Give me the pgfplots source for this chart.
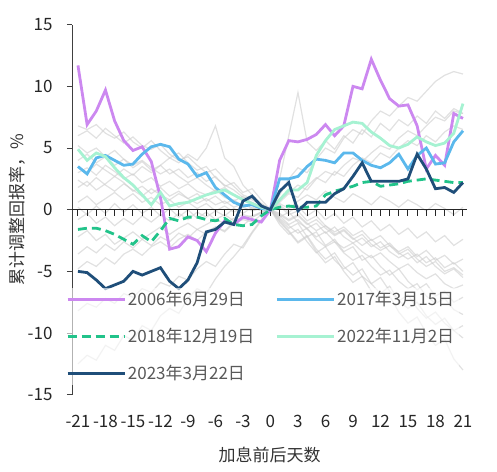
\documentclass[border=0pt]{standalone}
\usepackage{fontspec}
\setmainfont{Noto Sans CJK SC}
\usepackage{pgfplots}
\pgfplotsset{compat=1.18}
\usepackage{pgfplotstable}
\definecolor{cpurple}{HTML}{CC88F0}
\definecolor{cblue}{HTML}{5BB8EC}
\definecolor{cgreen}{HTML}{22C38A}
\definecolor{cmint}{HTML}{A6F2D2}
\definecolor{cnavy}{HTML}{1F4E79}
\definecolor{cgray}{HTML}{CDCDCD}

\pgfplotstableread{
d p b g m n
-21 11.7 3.5 -1.6 4.9 -5.0
-20 6.9 2.9 -1.5 4.0 -5.1
-19 8.0 4.2 -1.5 4.6 -5.7
-18 9.7 4.4 -1.7 4.3 -6.4
-17 7.2 4.0 -2.0 3.4 -6.1
-16 5.6 3.6 -2.4 2.6 -5.8
-15 4.8 3.7 -2.8 2.0 -5.0
-14 5.1 4.5 -2.1 1.2 -5.3
-13 3.9 5.1 -2.6 0.4 -5.0
-12 1.0 5.3 -1.7 1.4 -4.7
-11 -3.2 5.1 -0.7 0.3 -5.8
-10 -3.0 4.1 -0.9 0.5 -6.4
-9 -2.2 3.7 -0.6 0.6 -5.7
-8 -2.5 2.7 -0.6 0.9 -4.3
-7 -3.4 3.0 -0.8 1.2 -1.8
-6 -1.9 1.8 -0.9 1.4 -1.6
-5 -0.9 1.2 -0.7 1.6 -1.0
-4 -1.2 0.6 -1.2 1.2 -1.2
-3 -0.6 0.3 -1.3 0.8 0.7
-2 -0.8 0.4 -1.2 0.5 1.1
-1 -1.0 0.1 -0.5 0.2 0.3
0 0 0 0 0 0
1 4.0 2.5 0.2 0.8 1.5
2 5.6 2.5 0.3 1.6 2.2
3 5.5 2.7 0.2 1.6 -0.1
4 5.7 3.5 0.2 2.2 0.6
5 6.1 4.1 0.3 4.4 0.6
6 6.9 4.0 1.2 5.6 0.6
7 6.0 3.8 1.5 6.5 1.3
8 6.8 4.6 1.7 6.8 1.7
9 10.0 4.6 1.9 7.1 2.7
10 9.8 4.0 2.2 7.0 3.8
11 12.2 3.6 2.3 6.3 2.3
12 10.5 3.4 1.9 5.8 2.3
13 9.0 3.8 2.0 5.2 2.3
14 8.4 4.5 2.1 5.0 2.3
15 8.5 3.3 2.3 5.3 2.5
16 6.8 4.4 2.4 5.9 4.5
17 3.3 5.0 2.5 5.5 3.3
18 4.4 3.7 2.4 5.2 1.7
19 3.6 3.8 2.3 5.4 1.8
20 7.8 5.5 2.2 6.2 1.4
21 7.4 6.4 2.2 8.6 2.2
}\maintable

\begin{document}
\begin{tikzpicture}[font=\fontsize{17}{20}\selectfont]
\useasboundingbox (-72pt,-76.3pt) rectangle (425pt,394.7pt);
\begin{axis}[
  scale only axis, width=395pt, height=370pt,
  xmin=-21.65, xmax=21.44, ymin=-15, ymax=15,
  axis x line*=bottom, axis y line*=left,
  x axis line style={draw=none},
  y axis line style={-, black!75, line width=0.8pt},
  xtick={-21,-18,...,21}, ytick={-15,-10,...,15},
  xtick style={draw=none},
  ytick style={black!75, line width=0.8pt},
  tick align=outside, major tick length=5pt,
  /pgf/number format/assume math mode=true,
  tick label style={text=black!85},
  xticklabel style={yshift=-12pt},
  yticklabel style={xshift=-11pt},
  xlabel={加息前后天数},
  ylabel={累计调整回报率，\%},
  xlabel style={at={(axis description cs:0.5,-0.163)}, anchor=center, text=black!80},
  ylabel style={at={(axis description cs:-0.139,0.5)}, anchor=center, text=black!80},
  legend columns=2,
  legend cell align=left,
  legend style={draw=none, fill=white, fill opacity=0.6, text opacity=1,
    at={(axis description cs:-0.023,0.29)}, anchor=north west,
    text=black!65, row sep=17pt,
    /tikz/every even column/.append style={column sep=19pt}},
  legend image code/.code={\draw[#1] (0pt,0pt) -- (57pt,0pt);},
  clip=false,
]
\addplot[cgray, line width=1.2pt, opacity=0.6, forget plot] coordinates {(-21,6.8)(-20,6.5)(-19,6.9)(-18,6.2)(-17,5.8)(-16,6.3)(-15,5.5)(-14,5.0)(-13,5.6)(-12,4.8)(-11,4.2)(-10,4.6)(-9,3.8)(-8,3.2)(-7,3.5)(-6,2.6)(-5,2.0)(-4,1.6)(-3,1.0)(-2,0.8)(-1,0.4)(0,0)(1,-0.5)(2,-1.2)(3,-0.8)(4,-1.6)(5,-2.2)(6,-1.8)(7,-2.6)(8,-3.1)(9,-2.7)(10,-3.4)(11,-3.9)(12,-3.5)(13,-4.2)(14,-4.8)(15,-4.4)(16,-5.1)(17,-5.6)(18,-5.2)(19,-6.0)(20,-6.4)(21,-6.1)};
\addplot[cgray, line width=1.2pt, opacity=0.6, forget plot] coordinates {(-21,6.0)(-20,6.4)(-19,5.8)(-18,6.6)(-17,6.0)(-16,5.4)(-15,5.9)(-14,5.2)(-13,4.9)(-12,5.3)(-11,4.5)(-10,4.0)(-9,4.3)(-8,3.6)(-7,3.0)(-6,3.3)(-5,2.5)(-4,1.9)(-3,1.2)(-2,0.9)(-1,0.5)(0,0)(1,0.8)(2,1.4)(3,2.0)(4,1.6)(5,2.5)(6,3.1)(7,2.8)(8,3.6)(9,4.2)(10,3.9)(11,4.6)(12,5.2)(13,4.9)(14,5.8)(15,6.4)(16,6.0)(17,6.8)(18,7.5)(19,7.2)(20,8.0)(21,7.8)};
\addplot[cgray, line width=1.2pt, opacity=0.6, forget plot] coordinates {(-21,3.0)(-20,3.4)(-19,2.8)(-18,3.6)(-17,3.1)(-16,2.5)(-15,2.9)(-14,2.2)(-13,2.6)(-12,1.9)(-11,2.3)(-10,1.7)(-9,2.1)(-8,1.5)(-7,1.2)(-6,1.6)(-5,1.0)(-4,0.7)(-3,1.1)(-2,0.5)(-1,0.3)(0,0)(1,1.2)(2,2.5)(3,3.4)(4,3.0)(5,4.1)(6,5.0)(7,4.6)(8,5.8)(9,6.5)(10,6.1)(11,7.2)(12,8.0)(13,7.6)(14,8.4)(15,9.1)(16,8.8)(17,9.6)(18,10.4)(19,10.9)(20,11.2)(21,11.0)};
\addplot[cgray, line width=1.2pt, opacity=0.6, forget plot] coordinates {(-21,5.2)(-20,4.6)(-19,5.0)(-18,4.3)(-17,4.8)(-16,4.1)(-15,3.6)(-14,4.0)(-13,3.4)(-12,2.9)(-11,3.3)(-10,2.7)(-9,2.2)(-8,2.6)(-7,2.0)(-6,1.5)(-5,1.8)(-4,1.2)(-3,0.9)(-2,0.6)(-1,0.2)(0,0)(1,-0.4)(2,-0.9)(3,-0.5)(4,-1.2)(5,-0.8)(6,-1.5)(7,-2.1)(8,-1.7)(9,-2.4)(10,-2.0)(11,-2.8)(12,-3.3)(13,-2.9)(14,-3.6)(15,-3.2)(16,-4.0)(17,-4.6)(18,-4.2)(19,-5.0)(20,-4.7)(21,-5.3)};
\addplot[cgray, line width=1.2pt, opacity=0.6, forget plot] coordinates {(-21,1.8)(-20,2.3)(-19,1.6)(-18,2.1)(-17,2.7)(-16,2.2)(-15,1.5)(-14,1.9)(-13,1.3)(-12,1.8)(-11,1.1)(-10,1.5)(-9,0.9)(-8,1.3)(-7,0.7)(-6,1.1)(-5,0.5)(-4,0.8)(-3,0.3)(-2,0.5)(-1,0.2)(0,0)(1,-0.6)(2,-0.2)(3,-1.0)(4,-1.5)(5,-1.1)(6,-1.9)(7,-1.4)(8,-2.2)(9,-2.7)(10,-2.3)(11,-3.0)(12,-2.6)(13,-3.4)(14,-3.9)(15,-3.5)(16,-4.3)(17,-3.8)(18,-4.6)(19,-5.2)(20,-4.8)(21,-5.5)};
\addplot[cgray, line width=1.2pt, opacity=0.6, forget plot] coordinates {(-21,0.6)(-20,1.1)(-19,0.4)(-18,0.9)(-17,1.4)(-16,0.8)(-15,1.3)(-14,0.6)(-13,1.0)(-12,0.4)(-11,0.8)(-10,0.2)(-9,0.6)(-8,0.1)(-7,0.5)(-6,-0.1)(-5,0.3)(-4,-0.2)(-3,0.2)(-2,-0.1)(-1,0.1)(0,0)(1,0.5)(2,0.1)(3,0.7)(4,1.2)(5,0.8)(6,1.5)(7,1.0)(8,0.6)(9,1.3)(10,0.9)(11,0.4)(12,1.1)(13,0.7)(14,0.2)(15,0.8)(16,0.4)(17,-0.1)(18,0.5)(19,0.1)(20,-0.4)(21,0.2)};
\addplot[cgray, line width=1.2pt, opacity=0.6, forget plot] coordinates {(-21,-0.8)(-20,-0.3)(-19,-1.1)(-18,-0.6)(-17,-1.3)(-16,-0.7)(-15,-1.2)(-14,-0.5)(-13,-1.0)(-12,-0.4)(-11,-0.9)(-10,-0.3)(-9,-0.8)(-8,-0.2)(-7,-0.6)(-6,-0.1)(-5,-0.5)(-4,0.1)(-3,-0.3)(-2,0.2)(-1,-0.1)(0,0)(1,-0.7)(2,-1.3)(3,-1.9)(4,-1.5)(5,-2.4)(6,-3.0)(7,-2.6)(8,-3.5)(9,-4.1)(10,-3.7)(11,-4.6)(12,-5.3)(13,-4.9)(14,-5.8)(15,-6.4)(16,-6.0)(17,-7.0)(18,-7.6)(19,-7.2)(20,-8.1)(21,-8.5)};
\addplot[cgray, line width=1.2pt, opacity=0.6, forget plot] coordinates {(-21,-2.2)(-20,-1.7)(-19,-2.5)(-18,-2.0)(-17,-2.8)(-16,-2.3)(-15,-1.8)(-14,-2.4)(-13,-1.9)(-12,-1.4)(-11,-2.0)(-10,-1.5)(-9,-1.1)(-8,-1.6)(-7,-1.2)(-6,-0.8)(-5,-1.1)(-4,-0.7)(-3,-0.4)(-2,-0.6)(-1,-0.2)(0,0)(1,0.3)(2,-0.4)(3,-0.1)(4,-0.9)(5,-0.5)(6,-1.3)(7,-1.8)(8,-1.4)(9,-2.1)(10,-1.7)(11,-2.5)(12,-2.1)(13,-2.9)(14,-3.4)(15,-3.0)(16,-3.8)(17,-3.3)(18,-4.1)(19,-3.7)(20,-4.4)(21,-4.0)};
\addplot[cgray, line width=1.2pt, opacity=0.6, forget plot] coordinates {(-21,-3.6)(-20,-3.0)(-19,-3.5)(-18,-2.8)(-17,-3.3)(-16,-2.6)(-15,-3.1)(-14,-2.4)(-13,-2.9)(-12,-2.2)(-11,-2.6)(-10,-1.9)(-9,-2.3)(-8,-1.6)(-7,-2.0)(-6,-1.4)(-5,-1.7)(-4,-1.0)(-3,-1.3)(-2,-0.6)(-1,-0.3)(0,0)(1,-0.9)(2,-1.7)(3,-2.6)(4,-2.1)(5,-3.2)(6,-4.0)(7,-3.5)(8,-4.6)(9,-5.3)(10,-4.8)(11,-6.0)(12,-6.8)(13,-6.2)(14,-7.4)(15,-8.0)(16,-7.5)(17,-8.6)(18,-9.3)(19,-8.8)(20,-9.8)(21,-10.4)};
\addplot[cgray, line width=1.2pt, opacity=0.6, forget plot] coordinates {(-21,-4.8)(-20,-4.2)(-19,-4.6)(-18,-3.9)(-17,-4.4)(-16,-3.6)(-15,-3.2)(-14,-3.7)(-13,-3.0)(-12,-2.6)(-11,-3.1)(-10,-2.4)(-9,-2.0)(-8,-2.5)(-7,-1.8)(-6,-1.4)(-5,-1.8)(-4,-1.1)(-3,-0.8)(-2,-1.0)(-1,-0.4)(0,0)(1,-0.3)(2,-0.8)(3,-0.4)(4,-1.1)(5,-1.7)(6,-1.3)(7,-2.0)(8,-1.6)(9,-2.3)(10,-2.9)(11,-2.4)(12,-3.1)(13,-2.7)(14,-3.5)(15,-4.0)(16,-3.6)(17,-4.3)(18,-3.9)(19,-4.7)(20,-4.3)(21,-5.0)};
\addplot[cgray, line width=1.2pt, opacity=0.6, forget plot] coordinates {(-21,-8.2)(-20,-7.6)(-19,-7.9)(-18,-7.2)(-17,-7.6)(-16,-6.8)(-15,-7.1)(-14,-6.4)(-13,-6.7)(-12,-5.9)(-11,-6.2)(-10,-5.4)(-9,-5.7)(-8,-4.8)(-7,-4.2)(-6,-4.6)(-5,-3.6)(-4,-2.8)(-3,-3.1)(-2,-1.9)(-1,-0.9)(0,0)(1,-1.2)(2,-2.0)(3,-1.6)(4,-2.6)(5,-3.5)(6,-3.0)(7,-4.1)(8,-4.8)(9,-4.3)(10,-5.4)(11,-6.0)(12,-5.5)(13,-6.6)(14,-7.4)(15,-6.9)(16,-8.0)(17,-8.8)(18,-8.3)(19,-9.2)(20,-9.8)(21,-9.4)};
\addplot[cgray, line width=1.2pt, opacity=0.6, forget plot] coordinates {(-21,-12.5)(-20,-11.8)(-19,-12.2)(-18,-11.0)(-17,-11.4)(-16,-10.2)(-15,-10.6)(-14,-9.4)(-13,-9.8)(-12,-8.6)(-11,-8.0)(-10,-8.4)(-9,-7.2)(-8,-6.4)(-7,-6.8)(-6,-5.6)(-5,-4.6)(-4,-3.8)(-3,-2.9)(-2,-1.8)(-1,-0.8)(0,0)(1,-0.8)(2,-1.5)(3,-1.1)(4,-2.2)(5,-1.8)(6,-2.9)(7,-2.4)(8,-3.4)(9,-3.0)(10,-4.1)(11,-3.7)(12,-4.6)(13,-5.3)(14,-4.8)(15,-5.8)(16,-6.5)(17,-6.0)(18,-7.0)(19,-6.6)(20,-7.5)(21,-7.1)};
\addplot[cgray, line width=1.2pt, opacity=0.6, forget plot] coordinates {(-21,2.4)(-20,1.9)(-19,2.6)(-18,2.0)(-17,1.5)(-16,2.1)(-15,1.6)(-14,1.1)(-13,1.7)(-12,1.2)(-11,0.8)(-10,1.3)(-9,0.9)(-8,0.5)(-7,0.9)(-6,0.4)(-5,0.7)(-4,0.2)(-3,0.5)(-2,0.1)(-1,0.2)(0,0)(1,-1.0)(2,-1.8)(3,-2.7)(4,-2.2)(5,-3.4)(6,-4.3)(7,-3.8)(8,-5.0)(9,-5.9)(10,-5.4)(11,-6.6)(12,-7.5)(13,-7.0)(14,-8.3)(15,-9.2)(16,-8.7)(17,-10.0)(18,-11.0)(19,-10.5)(20,-12.1)(21,-13.0)};
\addplot[cgray, line width=1.2pt, opacity=0.6, forget plot] coordinates {(-21,4.0)(-20,4.5)(-19,3.8)(-18,4.3)(-17,3.6)(-16,4.1)(-15,3.4)(-14,3.9)(-13,3.2)(-12,3.6)(-11,2.9)(-10,3.3)(-9,2.6)(-8,3.0)(-7,2.3)(-6,2.7)(-5,1.9)(-4,2.2)(-3,1.4)(-2,1.7)(-1,0.8)(0,0)(1,2.5)(2,6.0)(3,9.5)(4,5.5)(5,4.8)(6,5.6)(7,4.9)(8,6.0)(9,5.4)(10,6.5)(11,5.9)(12,7.0)(13,6.4)(14,7.3)(15,6.8)(16,7.6)(17,7.0)(18,8.0)(19,7.4)(20,8.2)(21,7.8)};
\addplot[cgray, line width=1.2pt, opacity=0.6, forget plot] coordinates {(-21,3.5)(-20,3.0)(-19,3.7)(-18,3.2)(-17,2.7)(-16,3.3)(-15,2.8)(-14,3.5)(-13,3.0)(-12,3.6)(-11,4.2)(-10,3.8)(-9,4.5)(-8,4.0)(-7,5.0)(-6,6.8)(-5,4.2)(-4,3.5)(-3,2.0)(-2,1.2)(-1,0.5)(0,0)(1,0.4)(2,-0.2)(3,0.3)(4,-0.5)(5,0.0)(6,-0.8)(7,-0.3)(8,-1.1)(9,-0.6)(10,-1.4)(11,-0.9)(12,-1.7)(13,-1.2)(14,-2.0)(15,-1.5)(16,-2.3)(17,-1.8)(18,-2.6)(19,-2.1)(20,-2.9)(21,-2.4)};
\addplot[cgray, line width=1.2pt, opacity=0.6, forget plot] coordinates {(-21,0.2)(-20,-0.4)(-19,0.3)(-18,-0.3)(-17,0.5)(-16,-0.2)(-15,0.4)(-14,-0.3)(-13,0.2)(-12,-0.5)(-11,0.1)(-10,-0.6)(-9,0.0)(-8,-0.7)(-7,-0.2)(-6,-0.8)(-5,-0.4)(-4,-0.9)(-3,-0.6)(-2,-0.5)(-1,-0.2)(0,0)(1,0.6)(2,1.3)(3,1.0)(4,1.9)(5,2.6)(6,2.2)(7,3.1)(8,2.7)(9,3.6)(10,4.2)(11,3.8)(12,4.6)(13,4.2)(14,5.0)(15,5.6)(16,5.2)(17,6.0)(18,5.5)(19,6.3)(20,6.8)(21,6.5)};
% zero line with a downward tick at every day
\draw[black!85, line width=1pt] (axis cs:-21.65,0) -- (axis cs:21.44,0);
\foreach \k in {-21,-20,...,21} {
  \edef\tmp{\noexpand\draw[black!85, line width=1pt] (axis cs:\k,0) -- ++(0pt,-6pt);}
  \tmp
}

\addplot[cpurple, line width=2.8pt] table[x=d, y=p] {\maintable};
\addlegendentry{2006年6月29日}
\addplot[cblue, line width=2.8pt] table[x=d, y=b] {\maintable};
\addlegendentry{2017年3月15日}
\addplot[cgreen, line width=2.8pt, dash pattern=on 9pt off 5pt] table[x=d, y=g] {\maintable};
\addlegendentry{2018年12月19日}
\addplot[cmint, line width=2.8pt] table[x=d, y=m] {\maintable};
\addlegendentry{2022年11月2日}
\addplot[cnavy, line width=2.8pt] table[x=d, y=n] {\maintable};
\addlegendentry{2023年3月22日}
\end{axis}
\end{tikzpicture}
\end{document}
